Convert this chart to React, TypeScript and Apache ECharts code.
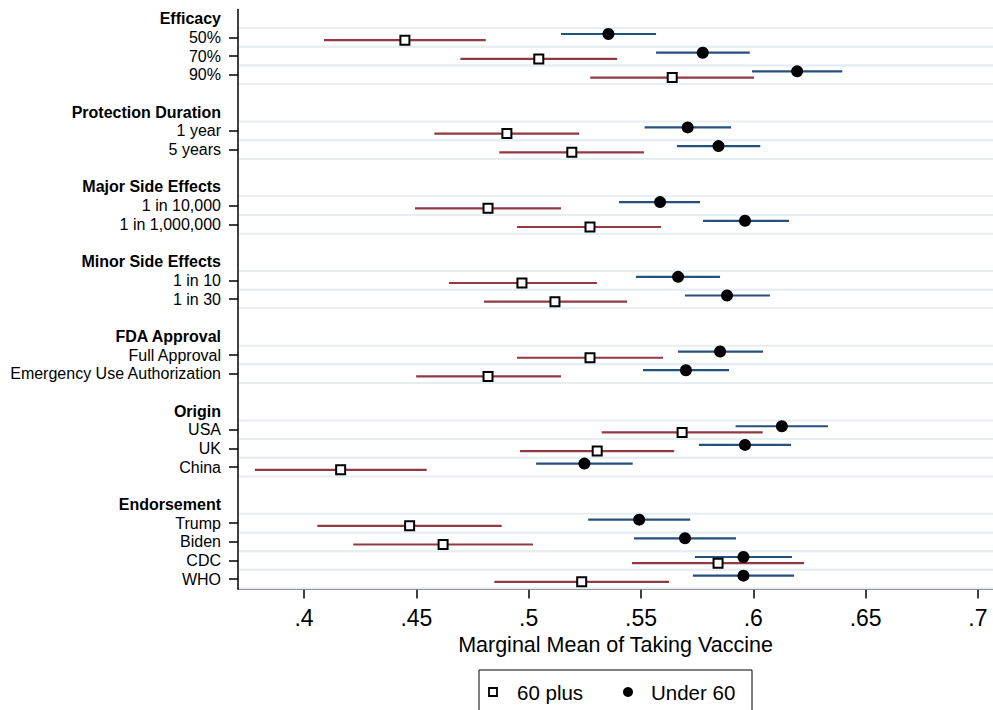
import React, { useEffect, useRef } from "react";
import * as echarts from "echarts";

// Row labels of the y axis (top to bottom); '' = spacer row
const rowLabels = [
  "Efficacy", "50%", "70%", "90%", "",
  "Protection Duration", "1 year", "5 years", "",
  "Major Side Effects", "1 in 10,000", "1 in 1,000,000", "",
  "Minor Side Effects", "1 in 10", "1 in 30", "",
  "FDA Approval", "Full Approval", "Emergency Use Authorization", "",
  "Origin", "USA", "UK", "China", "",
  "Endorsement", "Trump", "Biden", "CDC", "WHO",
];
const headerRows = ["Efficacy", "Protection Duration", "Major Side Effects", "Minor Side Effects", "FDA Approval", "Origin", "Endorsement"];

// Attribute levels that carry estimates
const levels = [
  "50%", "70%", "90%", "1 year", "5 years", "1 in 10,000", "1 in 1,000,000",
  "1 in 10", "1 in 30", "Full Approval", "Emergency Use Authorization",
  "USA", "UK", "China", "Trump", "Biden", "CDC", "WHO",
];

// Under 60
const under60Mean = [0.5355, 0.5775, 0.6195, 0.5708, 0.5845, 0.5585, 0.5963, 0.5665, 0.5883, 0.5852, 0.570, 0.6127, 0.5963, 0.5248, 0.5492, 0.5696, 0.5956, 0.5956];
const under60Lo = [0.5144, 0.5567, 0.5994, 0.5516, 0.566, 0.5402, 0.5776, 0.5478, 0.5696, 0.5665, 0.5509, 0.5921, 0.5758, 0.5033, 0.5265, 0.5469, 0.574, 0.5731];
const under60Hi = [0.5567, 0.5984, 0.6396, 0.5901, 0.6031, 0.5763, 0.6159, 0.5852, 0.6074, 0.6043, 0.5892, 0.6332, 0.6168, 0.5463, 0.5719, 0.5923, 0.6172, 0.6181];

// 60 plus
const plus60Mean = [0.4449, 0.5045, 0.5639, 0.4903, 0.5192, 0.4819, 0.5273, 0.497, 0.5117, 0.5273, 0.4819, 0.5683, 0.5305, 0.4163, 0.447, 0.4619, 0.5843, 0.5236];
const plus60Lo = [0.4089, 0.4696, 0.5274, 0.458, 0.4869, 0.4494, 0.4948, 0.4645, 0.4801, 0.4948, 0.4499, 0.5325, 0.4961, 0.3781, 0.4059, 0.4219, 0.546, 0.4847];
const plus60Hi = [0.4809, 0.5394, 0.6003, 0.5225, 0.5513, 0.5144, 0.5589, 0.5304, 0.5438, 0.5598, 0.5144, 0.6042, 0.5648, 0.4546, 0.488, 0.5019, 0.6226, 0.5625];

const xTicks = [0.4, 0.45, 0.5, 0.55, 0.6, 0.65, 0.7];
const xMin = 0.3706;
const xMax = 0.7067;

const FONT = '"Liberation Sans", Arial, Helvetica, sans-serif';
const RED = "#913a43";
const BLUE = "#24507e";

export default function App() {
  const ref = useRef<HTMLDivElement>(null);

  useEffect(() => {
    if (!ref.current) return;
    const chart = echarts.init(ref.current, undefined, { renderer: "svg" });

    const rowOf = (lvl: string) => rowLabels.indexOf(lvl);
    const itemRows = levels.map(rowOf);
    const headerIdx = headerRows.map((h) => rowLabels.indexOf(h));

    const barData = (lo: number[], hi: number[]) => levels.map((l, i) => [lo[i], hi[i], rowOf(l)]);
    const ptData = (m: number[]) => levels.map((l, i) => [m[i], rowOf(l)]);

    const errBar = (name: string, data: number[][], color: string, off: number) => ({
      type: "custom",
      name,
      data,
      encode: { x: [0, 1], y: 2 },
      z: 3,
      silent: true,
      renderItem: (params: any, api: any) => {
        const p1 = api.coord([api.value(0), api.value(2)]);
        const p2 = api.coord([api.value(1), api.value(2)]);
        return {
          type: "line",
          shape: { x1: p1[0], y1: p1[1] + off, x2: p2[0], y2: p2[1] + off },
          style: { stroke: color, lineWidth: 2.2 },
        };
      },
    });

    const option: any = {
      animation: false,
      textStyle: { fontFamily: FONT },
      grid: { left: 238, top: 9.5, right: 0, bottom: 121.5, containLabel: false },
      xAxis: {
        type: "value",
        min: xMin,
        max: xMax,
        name: "Marginal Mean of Taking Vaccine",
        nameLocation: "middle",
        nameGap: 43,
        nameTextStyle: { fontSize: 21.5, color: "#000", fontFamily: FONT },
        axisLine: { show: true, lineStyle: { color: "#000", width: 1.5 } },
        axisTick: { show: true, length: 10, lineStyle: { color: "#000", width: 1.5 }, customValues: xTicks },
        axisLabel: {
          customValues: xTicks,
          fontSize: 23,
          color: "#000",
          fontFamily: FONT,
          margin: 18,
          formatter: (v: number) => v.toFixed(2).replace(/0$/, "").replace(/^0/, ""),
        },
        splitLine: { show: false },
      },
      yAxis: {
        type: "category",
        data: rowLabels,
        inverse: true,
        boundaryGap: true,
        axisLine: { show: true, lineStyle: { color: "#000", width: 1.5 } },
        axisTick: {
          show: true,
          alignWithLabel: true,
          length: 9,
          interval: (i: number) => itemRows.indexOf(i) >= 0,
          lineStyle: { color: "#000", width: 1.5 },
        },
        axisLabel: {
          interval: 0,
          margin: 17,
          fontSize: 16,
          color: "#000",
          fontFamily: FONT,
          formatter: (v: string, i: number) => (headerIdx.indexOf(i) >= 0 ? `{h|${v}}` : v),
          rich: { h: { fontWeight: "bold", fontSize: 16, color: "#000", fontFamily: FONT } },
        },
        splitLine: { show: false },
      },
      series: [
        {
          type: "custom",
          name: "grid",
          data: itemRows.map((r) => [xMin, r]),
          encode: { x: 0, y: 1 },
          z: 1,
          silent: true,
          renderItem: (params: any, api: any) => {
            const c = api.coord([api.value(0), api.value(1)]);
            const h = api.size([0, 1])[1];
            const cs = params.coordSys;
            const x1 = cs.x + 1;
            const x2 = cs.x + cs.width;
            return {
              type: "group",
              children: [
                { type: "line", shape: { x1, y1: c[1] - h / 2, x2, y2: c[1] - h / 2 }, style: { stroke: "#e6eef1", lineWidth: 2 } },
                { type: "line", shape: { x1, y1: c[1] + h / 2, x2, y2: c[1] + h / 2 }, style: { stroke: "#e6eef1", lineWidth: 2 } },
              ],
            };
          },
        },
        errBar("60 plus CI", barData(plus60Lo, plus60Hi), RED, 2.7),
        errBar("Under 60 CI", barData(under60Lo, under60Hi), BLUE, -3.5),
        {
          type: "scatter",
          name: "60 plus",
          data: ptData(plus60Mean),
          symbol: "rect",
          symbolSize: 9,
          symbolOffset: [0, 2.7],
          itemStyle: { color: "#fff", borderColor: "#000", borderWidth: 2, opacity: 1 },
          z: 4,
          silent: true,
        },
        {
          type: "scatter",
          name: "Under 60",
          data: ptData(under60Mean),
          symbol: "circle",
          symbolSize: 12,
          symbolOffset: [0, -3.5],
          itemStyle: { color: "#000", opacity: 1 },
          z: 5,
          silent: true,
        },
      ],
      graphic: [
        { type: "rect", shape: { x: 479, y: 670, width: 273, height: 60 }, style: { fill: "#fff", stroke: "#000", lineWidth: 1 }, z: 10 },
        { type: "rect", shape: { x: 489, y: 688, width: 8, height: 8 }, style: { fill: "#fff", stroke: "#000", lineWidth: 1.8 }, z: 11 },
        { type: "text", x: 517, y: 692, style: { text: "60 plus", fontSize: 20.5, fontFamily: FONT, fill: "#000", verticalAlign: "middle", align: "left" }, z: 11 },
        { type: "circle", shape: { cx: 628, cy: 692, r: 5 }, style: { fill: "#000" }, z: 11 },
        { type: "text", x: 651, y: 692, style: { text: "Under 60", fontSize: 20.5, fontFamily: FONT, fill: "#000", verticalAlign: "middle", align: "left" }, z: 11 },
      ],
    };

    chart.setOption(option);
    return () => chart.dispose();
  }, []);

  return <div ref={ref} style={{ position: "absolute", left: 0, top: 0, width: 993, height: 710 }} />;
}
